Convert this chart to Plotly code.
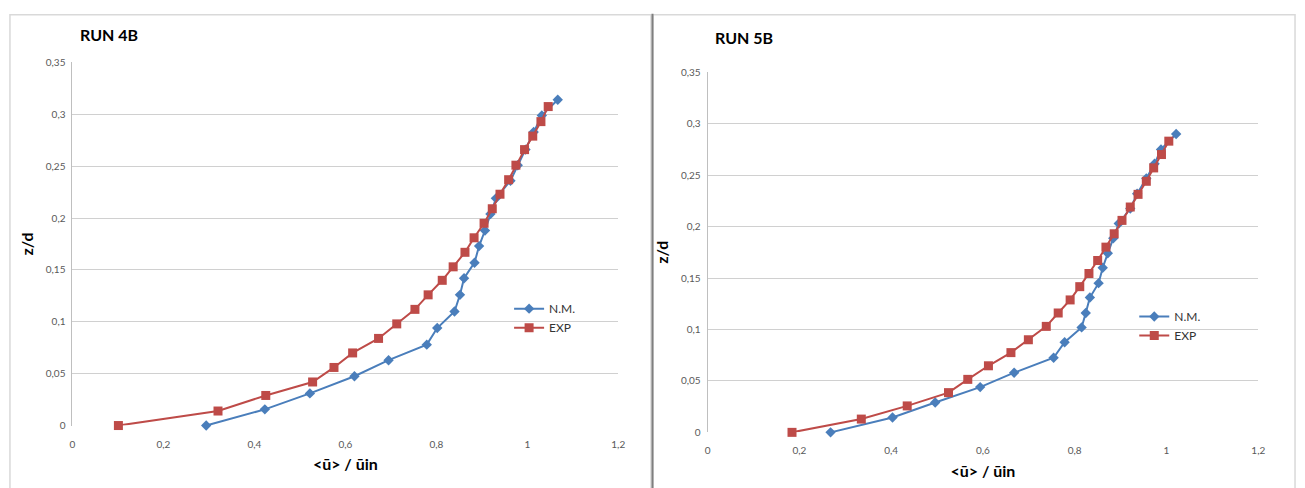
import plotly.graph_objects as go

# ---------------- data ----------------
# RUN 4B
nm4_x = [0.294, 0.423, 0.522, 0.620, 0.695, 0.779, 0.802, 0.840, 0.852, 0.861, 0.884,
         0.894, 0.907, 0.919, 0.931, 0.963, 0.979, 0.996, 1.014, 1.032, 1.067]
nm4_z = [0.0, 0.0156, 0.031, 0.0475, 0.063, 0.078, 0.094, 0.110, 0.126, 0.142, 0.157,
         0.173, 0.188, 0.204, 0.219, 0.236, 0.251, 0.266, 0.283, 0.299, 0.314]
exp4_x = [0.101, 0.320, 0.425, 0.528, 0.575, 0.616, 0.673, 0.713, 0.753, 0.782, 0.813,
          0.837, 0.863, 0.883, 0.905, 0.923, 0.940, 0.959, 0.975, 0.994, 1.012, 1.030, 1.046]
exp4_z = [0.0, 0.014, 0.029, 0.042, 0.056, 0.070, 0.084, 0.098, 0.112, 0.126, 0.140,
          0.153, 0.167, 0.181, 0.195, 0.209, 0.223, 0.237, 0.251, 0.266, 0.279, 0.293, 0.3075]
# RUN 5B
nm5_x = [0.268, 0.403, 0.496, 0.594, 0.668, 0.754, 0.778, 0.815, 0.824, 0.833, 0.852,
         0.861, 0.872, 0.884, 0.896, 0.921, 0.936, 0.956, 0.974, 0.988, 1.021]
nm5_z = [0.0, 0.0144, 0.029, 0.044, 0.058, 0.0725, 0.0876, 0.102, 0.116, 0.131, 0.145,
         0.160, 0.174, 0.1886, 0.203, 0.2175, 0.232, 0.2467, 0.261, 0.275, 0.290]
exp5_x = [0.184, 0.335, 0.435, 0.525, 0.567, 0.612, 0.661, 0.699, 0.738, 0.764, 0.790,
          0.811, 0.831, 0.850, 0.868, 0.886, 0.903, 0.921, 0.938, 0.956, 0.972, 0.989, 1.005]
exp5_z = [0.0, 0.0129, 0.0257, 0.0386, 0.0515, 0.0647, 0.0775, 0.090, 0.103, 0.116, 0.1287,
          0.1416, 0.1544, 0.167, 0.180, 0.193, 0.206, 0.219, 0.2313, 0.244, 0.257, 0.270, 0.283]

titles = ["RUN 4B", "RUN 5B"]
series_names = ["N.M.", "EXP"]
x_tickvals = [0, 0.2, 0.4, 0.6, 0.8, 1.0, 1.2]
x_ticktext = ["0", "0,2", "0,4", "0,6", "0,8", "1", "1,2"]
y_tickvals = [0, 0.05, 0.1, 0.15, 0.2, 0.25, 0.3, 0.35]
y_ticktext = ["0", "0,05", "0,1", "0,15", "0,2", "0,25", "0,3", "0,35"]
x_title = "<ū> / ūin"
y_title = "z/d"

# ---------------- styling ----------------
W, H = 1305, 488
BLUE = "#4A7EBB"
RED = "#BE4B48"
FONT = "Lato"

fig = go.Figure()

def add_series(x, y, name, color, symbol, size, xa, ya, leg):
    fig.add_trace(go.Scatter(x=x, y=y, name=name, mode="lines+markers", cliponaxis=False,
                             line=dict(color=color, width=2),
                             marker=dict(symbol=symbol, size=size, color=color),
                             xaxis=xa, yaxis=ya, legend=leg))

add_series(nm4_x, nm4_z, series_names[0], BLUE, "diamond", 8, "x", "y", "legend")
add_series(exp4_x, exp4_z, series_names[1], RED, "square", 9, "x", "y", "legend")
add_series(nm5_x, nm5_z, series_names[0], BLUE, "diamond", 8, "x2", "y2", "legend2")
add_series(exp5_x, exp5_z, series_names[1], RED, "square", 9, "x2", "y2", "legend2")

def px_x(p):
    return p / W

def px_y(p):
    return 1 - p / H

tick_font = dict(family=FONT, size=10, color="#595959")
title_font = dict(family=FONT, size=16, color="#000000")

def xaxis(domain, anchor):
    return dict(domain=domain, anchor=anchor, range=[0, 1.2], tickvals=x_tickvals, ticktext=x_ticktext,
                showgrid=False, zeroline=False, showline=False,
                ticks="outside", ticklen=9, tickcolor="rgba(0,0,0,0)", tickfont=tick_font,
                title=dict(text="<b>" + x_title.replace("<", "&lt;").replace(">", "&gt;") + "</b>",
                           font=title_font, standoff=10))

def yaxis(domain, anchor):
    return dict(domain=domain, anchor=anchor, range=[0, 0.35], tickvals=y_tickvals, ticktext=y_ticktext,
                showgrid=True, gridcolor="#D0D0D0", gridwidth=1, zeroline=False,
                showline=True, linecolor="#BFBFBF", linewidth=1,
                ticks="outside", ticklen=4, tickcolor="rgba(0,0,0,0)", tickfont=tick_font,
                title=dict(text="<b>" + y_title + "</b>", font=title_font, standoff=8))

legend_common = dict(font=dict(family=FONT, size=12, color="#333333"), bgcolor="rgba(0,0,0,0)",
                     itemwidth=30, tracegroupgap=8, xanchor="left", yanchor="top",
                     itemclick=False)

fig.update_layout(
    width=W, height=H, autosize=False,
    margin=dict(l=0, r=0, t=0, b=0),
    paper_bgcolor="white", plot_bgcolor="white",
    font=dict(family=FONT),
    xaxis=xaxis([px_x(70), px_x(620)], "y"),
    yaxis=yaxis([px_y(430), px_y(57)], "x"),
    xaxis2=xaxis([px_x(710), px_x(1265)], "y2"),
    yaxis2=yaxis([px_y(437), px_y(67)], "x2"),
    legend=dict(x=px_x(510), y=px_y(295), **legend_common),
    legend2=dict(x=px_x(1140), y=px_y(303), **legend_common),
    showlegend=True,
    shapes=[
        # left panel frame
        dict(type="rect", xref="paper", yref="paper", x0=px_x(7), x1=px_x(653), y0=-0.1, y1=px_y(8),
             line=dict(color="#D9D9D9", width=1.5), fillcolor="rgba(0,0,0,0)", layer="below"),
        # right panel frame
        dict(type="rect", xref="paper", yref="paper", x0=px_x(655), x1=px_x(1302), y0=-0.1, y1=px_y(8),
             line=dict(color="#D9D9D9", width=1.5), fillcolor="rgba(0,0,0,0)", layer="below"),
        # dark separator
        dict(type="line", xref="paper", yref="paper", x0=px_x(654.5), x1=px_x(654.5), y0=-0.1, y1=px_y(7),
             line=dict(color="#7F7F7F", width=2)),
    ],
    annotations=[
        dict(text="<b>" + titles[0] + "</b>", xref="paper", yref="paper", x=px_x(76), y=px_y(28),
             xanchor="left", yanchor="middle", showarrow=False, font=dict(family=FONT, size=16, color="#000")),
        dict(text="<b>" + titles[1] + "</b>", xref="paper", yref="paper", x=px_x(715), y=px_y(31),
             xanchor="left", yanchor="middle", showarrow=False, font=dict(family=FONT, size=16, color="#000")),
    ],
)

fig.write_html("out.html", config={"displayModeBar": False},
               post_script="document.body.style.margin='0';document.body.style.overflow='hidden';")
